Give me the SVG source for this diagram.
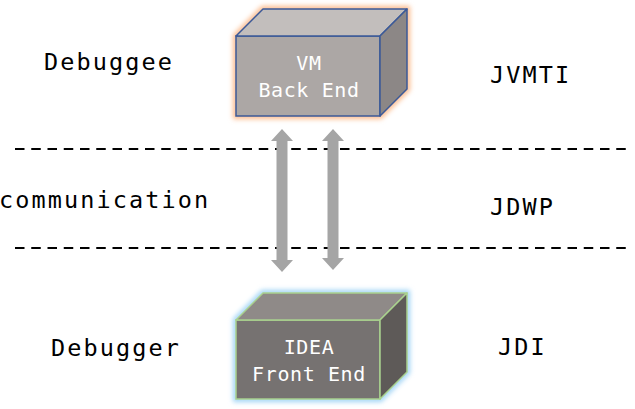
<svg xmlns="http://www.w3.org/2000/svg" width="635" height="409" viewBox="0 0 635 409">
<style>
.lbl{font-family:"DejaVu Sans Mono","Liberation Mono",monospace;font-size:23.5px;letter-spacing:2.1px;fill:#000}
.box{font-family:"DejaVu Sans Mono","Liberation Mono",monospace;font-size:20px;letter-spacing:0.6px;fill:#fff;text-anchor:middle}
.sep{stroke:#000;stroke-width:2;stroke-dasharray:9.5 6.75;fill:none}
.arr{fill:#a5a5a5}
</style>
<defs>
<filter id="glow" x="-20%" y="-20%" width="140%" height="140%">
<feGaussianBlur stdDeviation="2.5"/>
</filter>
</defs>
<g id="separators">
<line class="sep" x1="15" y1="149" x2="630" y2="149"/>
<line class="sep" x1="15" y1="248" x2="630" y2="248"/>
</g>
<g id="vm">
<polygon points="236,36 263,9 407,9 407,89 380,116 236,116" fill="none" stroke="#fbb98a" stroke-width="6" filter="url(#glow)"/>
<rect x="236" y="36" width="144" height="80" fill="#aca7a5" stroke="#3b5998" stroke-width="1.5"/>
<polygon points="236,36 263,9 407,9 380,36" fill="#c2bebc" stroke="#3b5998" stroke-width="1.5" stroke-linejoin="round"/>
<polygon points="380,36 407,9 407,89 380,116" fill="#8c8786" stroke="#3b5998" stroke-width="1.5" stroke-linejoin="round"/>
<text class="box" x="309" y="70">VM</text>
<text class="box" x="309" y="97">Back End</text>
</g>
<g id="idea">
<polygon points="236,320 263,293 407,293 407,372 380,399 236,399" fill="none" stroke="#9fd3f5" stroke-width="6" filter="url(#glow)"/>
<rect x="236" y="320" width="144" height="79" fill="#767271" stroke="#a9d18e" stroke-width="1.5"/>
<polygon points="236,320 263,293 407,293 380,320" fill="#8f8a88" stroke="#a9d18e" stroke-width="1.5" stroke-linejoin="round"/>
<polygon points="380,320 407,293 407,372 380,399" fill="#5e5a58" stroke="#a9d18e" stroke-width="1.5" stroke-linejoin="round"/>
<text class="box" x="309" y="354">IDEA</text>
<text class="box" x="309" y="381">Front End</text>
</g>
<g id="connectors">
<polygon class="arr" points="282,129 293,141 287.5,141 287.5,260 293,260 282,272 271,260 276.5,260 276.5,141 271,141"/>
<polygon class="arr" points="333,129 344,141 338.5,141 338.5,258 344,258 333,270 322,258 327.5,258 327.5,141 322,141"/>
</g>
<g id="labels">
<text class="lbl" x="44" y="70">Debuggee</text>
<text class="lbl" x="490" y="83">JVMTI</text>
<text class="lbl" x="-1" y="208">communication</text>
<text class="lbl" x="490" y="215">JDWP</text>
<text class="lbl" x="51" y="356">Debugger</text>
<text class="lbl" x="498" y="355">JDI</text>
</g>
</svg>
